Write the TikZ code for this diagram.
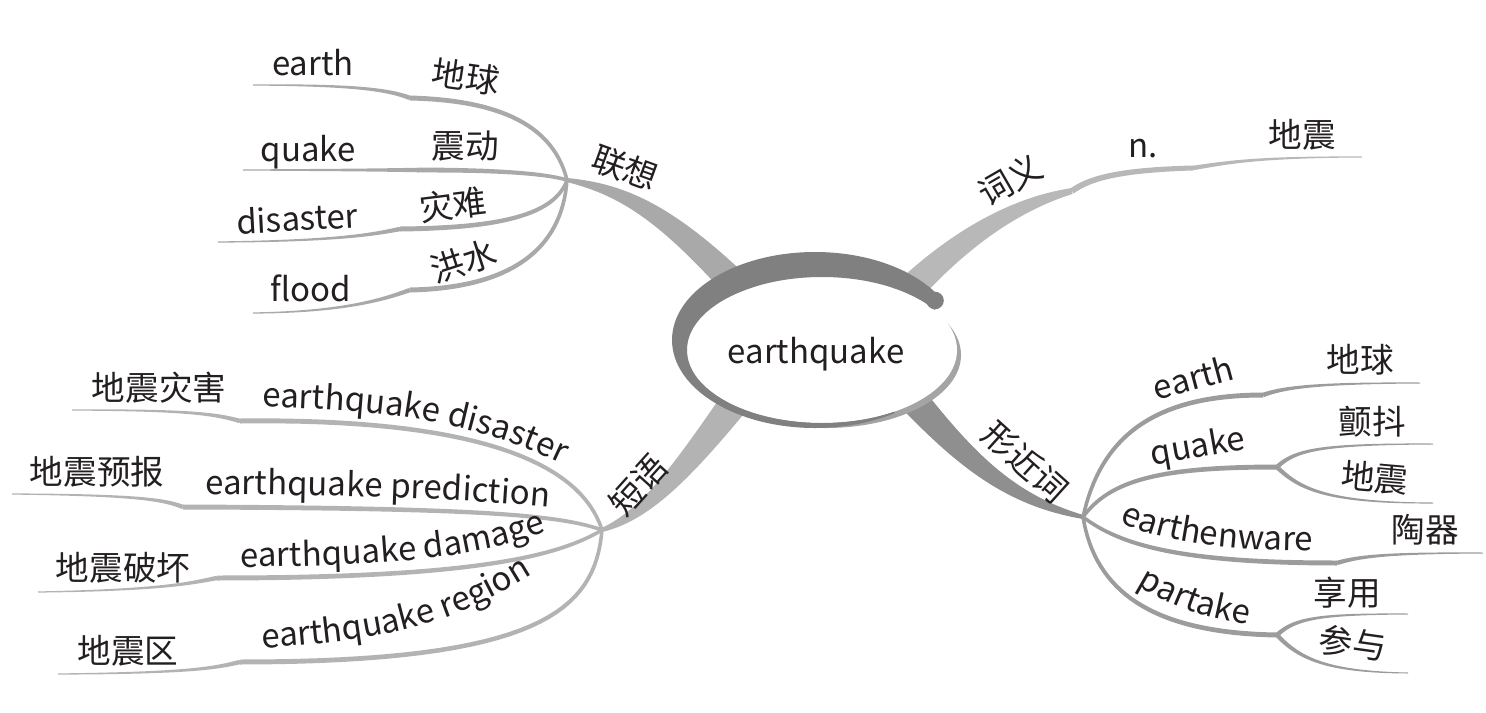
\documentclass[tikz,border=0pt]{standalone}
\usepackage{fontspec}
\setmainfont{Noto Sans CJK SC}
\usetikzlibrary{decorations.text}
\definecolor{ringc}{HTML}{808080}
\definecolor{shad}{HTML}{A4A4A4}
\definecolor{bA}{HTML}{A9A9A9}
\definecolor{bB}{HTML}{B8B8B8}
\definecolor{bC}{HTML}{B3B3B3}
\definecolor{bD}{HTML}{8F8F8F}
\definecolor{bE}{HTML}{9C9C9C}
\definecolor{txt}{HTML}{231F20}
\newcommand\enf{\fontsize{16.5pt}{20pt}\selectfont}
\newcommand\zhf{\fontsize{16.8pt}{20pt}\selectfont}
\tikzset{
  declare function={
    bz(\ua,\ub,\uc,\ud,\uu)=(1-\uu)*(1-\uu)*(1-\uu)*\ua+3*(1-\uu)*(1-\uu)*\uu*\ub+3*(1-\uu)*\uu*\uu*\uc+\uu*\uu*\uu*\ud;
    dd(\ua,\ub,\uc,\ud,\uu)=((1-\uu)*(1-\uu)*(\ub-\ua)+2*(1-\uu)*\uu*(\uc-\ub)+\uu*\uu*(\ud-\uc))/100;
  },
  en/.style={font=\enf,text=txt,inner sep=0pt},
  zh/.style={font=\zhf,text=txt,inner sep=0pt},
  along/.style={decorate,decoration={text along path,text align=left,text color=txt,text={|\enf|#1}}}
}
\def\tbr(#1,#2)(#3,#4)(#5,#6)(#7,#8){%
  \fill[fill=\bcol] plot[variable=\uu,domain=0:1,samples=33]
   ({bz(#1,#3,#5,#7,\uu)-dd(#2,#4,#6,#8,\uu)/veclen(dd(#1,#3,#5,#7,\uu),dd(#2,#4,#6,#8,\uu))*(\wa+(\wb-\wa)*\uu)/2},
    {bz(#2,#4,#6,#8,\uu)+dd(#1,#3,#5,#7,\uu)/veclen(dd(#1,#3,#5,#7,\uu),dd(#2,#4,#6,#8,\uu))*(\wa+(\wb-\wa)*\uu)/2})
  -- plot[variable=\uu,domain=1:0,samples=33]
   ({bz(#1,#3,#5,#7,\uu)+dd(#2,#4,#6,#8,\uu)/veclen(dd(#1,#3,#5,#7,\uu),dd(#2,#4,#6,#8,\uu))*(\wa+(\wb-\wa)*\uu)/2},
    {bz(#2,#4,#6,#8,\uu)-dd(#1,#3,#5,#7,\uu)/veclen(dd(#1,#3,#5,#7,\uu),dd(#2,#4,#6,#8,\uu))*(\wa+(\wb-\wa)*\uu)/2})
  -- cycle;}
\newcommand\seg[3]{\def\wa{#1}\def\wb{#2}\def\bcol{#3}\tbr}
\begin{document}
\begin{tikzpicture}[x=0.5pt,y=-0.5pt]
\useasboundingbox (0,0) rectangle (1486,712);
% ---------- trunks ----------
\seg{4}{30}{bA}(567,180)(625,190)(670,215)(750,300)
\seg{6}{30}{bB}(1072,191)(1020,203)(960,235)(895,305)
\seg{4}{30}{bC}(602,530)(645,515)(680,475)(740,395)
\seg{4}{30}{bD}(1083,517)(1010,500)(965,460)(905,390)
% ---------- central ellipse ----------
\fill[shad] (826,355) ellipse[x radius=135,y radius=73];
\fill[white] (822,350) ellipse[x radius=135,y radius=73];
\begin{scope}
\clip (935,100) -- (600,100) -- (600,600) -- (1100,600) -- (1100,585) -- (820,350) -- (935,350) -- cycle;
\fill[ringc,even odd rule] (815,340) ellipse[x radius=143,y radius=88] (822,350) ellipse[x radius=135,y radius=73];
\end{scope}
\fill[ringc] (935,300.5) circle[radius=8.8];
\node[en] (ctr) at (816,354) {earthquake};
% ---------- 联想 ----------
\seg{5}{3.5}{bA}(410,98)(490,100)(552,120)(567,180)
\seg{1.2}{4.5}{bA}(253,85)(340,85)(385,88)(410,98)
\seg{5}{3.5}{bA}(417,170)(480,170)(540,172)(567,180)
\seg{1.2}{4.5}{bA}(243,170)(350,170)(390,170)(417,170)
\seg{5}{3.5}{bA}(400,229)(500,228)(555,215)(567,180)
\seg{1.2}{4.5}{bA}(218,242)(340,241)(375,234)(400,229)
\seg{5}{3.5}{bA}(410,290)(510,288)(562,250)(567,180)
\seg{1.2}{4.5}{bA}(253,313)(345,312)(385,299)(410,290)
\node[en] (a1) at (313,63) {earth};
\node[zh,rotate=-8] (a1c) at (466,77) {地球};
\node[en] (a2) at (308,152) {quake};
\node[zh] (a2c) at (465,146) {震动};
\node[en,rotate=3] (a3) at (297,218) {disaster};
\node[zh,rotate=7] (a3c) at (453,205) {灾难};
\node[en] (a4) at (311,288) {flood};
\node[zh,rotate=18] (a4c) at (464,261) {洪水};
\node[zh,rotate=-20] (lx) at (625,168) {联想};
% ---------- 词义 ----------
\seg{6}{5}{bB}(1072,191)(1090,178)(1120,170)(1193,168)
\seg{4.5}{1}{bB}(1193,168)(1230,162)(1260,157)(1362,157)
\node[zh,rotate=30] (cy) at (1010,180) {词义};
\node[en] (nn) at (1143,149) {n.};
\node[zh] (ndz) at (1302,135) {地震};
% ---------- 短语 ----------
\seg{5}{3.5}{bC}(240,421)(470,418)(580,460)(602,530)
\seg{1.2}{4.5}{bC}(72,410)(190,410)(215,414)(240,421)
\seg{5}{3.5}{bC}(183,507)(480,508)(560,515)(602,530)
\seg{1.2}{4.5}{bC}(12,494)(140,495)(165,500)(183,507)
\seg{5}{3.5}{bC}(217,578)(480,578)(560,555)(602,530)
\seg{1.2}{4.5}{bC}(38,592)(170,590)(195,582)(217,578)
\seg{5}{3.5}{bC}(240,662)(540,662)(595,610)(602,530)
\seg{1.2}{4.5}{bC}(58,674)(190,673)(215,668)(240,662)
\node[zh] (c1) at (159,388) {地震灾害};
\node[zh] (c2) at (97,472) {地震预报};
\node[zh] (c3) at (123,568) {地震破坏};
\node[zh] (c4) at (128,651) {地震区};
\node[zh,rotate=48] (dy) at (638,485) {短语};
\path[along={earthquake disaster}] (262,407) .. controls (380,410) and (470,418) .. (570,468) -- ++(40,24);
\path[along={earthquake prediction}] (205,494) .. controls (330,495) and (450,498) .. (550,507) -- ++(40,4);
\path[along={earthquake damage}] (240,567) .. controls (380,566) and (470,560) .. (545,532) -- ++(40,-15);
\path[along={earthquake region}] (262,648) .. controls (380,641) and (450,627) .. (535,573) -- ++(40,-28);
% ---------- 形近词 ----------
\seg{3.5}{5}{bE}(1083,517)(1100,440)(1150,395)(1263,395)
\seg{4.5}{1}{bE}(1263,395)(1285,387)(1320,383)(1420,383)
\seg{3.5}{5}{bE}(1083,517)(1110,480)(1160,467)(1277,467)
\seg{4.5}{1}{bE}(1277,467)(1295,450)(1320,444)(1433,444)
\seg{4.5}{1}{bE}(1277,467)(1300,490)(1330,503)(1433,503)
\seg{3.5}{5}{bE}(1083,517)(1120,545)(1180,563)(1337,563)
\seg{4.5}{1}{bE}(1337,563)(1360,556)(1390,553)(1483,553)
\seg{3.5}{5}{bE}(1083,517)(1095,590)(1150,633)(1277,635)
\seg{4.5}{1}{bE}(1277,635)(1295,618)(1320,614)(1408,614)
\seg{4.5}{1}{bE}(1277,635)(1300,660)(1330,672)(1408,673)
\node[zh,rotate=-42] (xj) at (1025,462) {形近词};
\node[en,rotate=15] (d1) at (1193,377) {earth};
\node[zh] (d1c) at (1360,360) {地球};
\node[en,rotate=10] (d2) at (1198,448) {quake};
\node[zh] (d2a) at (1372,422) {颤抖};
\node[zh,rotate=-5] (d2b) at (1375,478) {地震};
\node[zh] (d3c) at (1425,530) {陶器};
\node[zh] (d4a) at (1347,593) {享用};
\node[zh,rotate=-8] (d4b) at (1353,643) {参与};
\path[along={earthenware}] (1120,522) .. controls (1160,540) and (1210,550) .. (1310,551) -- ++(40,0);
\path[along={partake}] (1137,585) .. controls (1170,605) and (1200,618) .. (1250,625) -- ++(40,5);
\end{tikzpicture}
\end{document}
